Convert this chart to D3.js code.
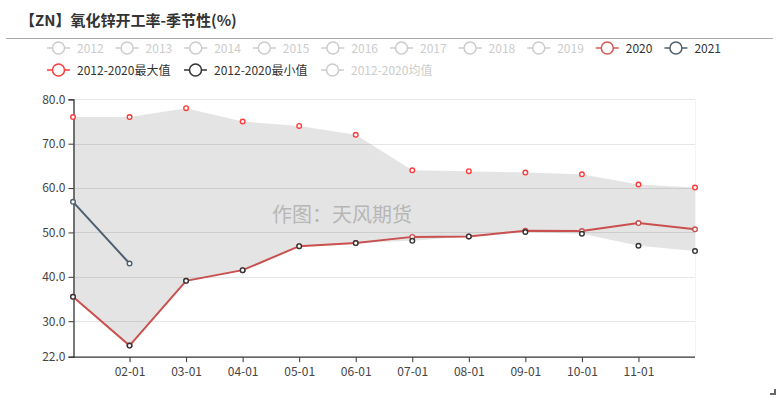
<!DOCTYPE html>
<html>
<head>
<meta charset="utf-8">
<script src="https://cdn.jsdelivr.net/npm/d3@7"></script>
<style>
  body { margin: 0; background: #fff; }
</style>
</head>
<body>
<div id="chart"></div>
<script>
var months = ["01-01", "02-01", "03-01", "04-01", "05-01", "06-01", "07-01", "08-01", "09-01", "10-01", "11-01", "12-01"];
var tickLabels = ["02-01", "03-01", "04-01", "05-01", "06-01", "07-01", "08-01", "09-01", "10-01", "11-01"];
var yTicks = [22, 30, 40, 50, 60, 70, 80];
var maxValues = [76, 76, 78, 75, 74, 72, 64, 63.8, 63.5, 63.1, 60.8, 60.1];
var minValues = [35.5, 24.5, 39.1, 41.5, 46.9, 47.6, 48.1, 49.1, 50.1, 49.7, 47.0, 45.8];
var values2020 = [35.5, 24.5, 39.1, 41.5, 46.9, 47.6, 49.0, 49.1, 50.4, 50.3, 52.1, 50.7];
var values2021 = [56.9, 43.0];
var legendRow1 = ["2012", "2013", "2014", "2015", "2016", "2017", "2018", "2019", "2020", "2021"];
var legendRow2 = ["2012-2020最大值", "2012-2020最小值", "2012-2020均值"];

var fontFamily = "'Noto Sans CJK SC', 'Noto Sans', sans-serif";
var width = 782, height = 398;
var plotLeft = 73, plotRight = 695, plotTop = 99.3, plotBottom = 356.7;

var svg = d3.select("#chart").append("svg")
  .attr("width", width)
  .attr("height", height);

// title
svg.append("text")
  .attr("x", 20).attr("y", 26)
  .attr("font-family", fontFamily)
  .attr("font-size", "15px")
  .attr("font-weight", "bold")
  .attr("fill", "#333")
  .text("【ZN】氧化锌开工率-季节性(%)");
svg.append("line")
  .attr("x1", 6).attr("x2", 773)
  .attr("y1", 38.5).attr("y2", 38.5)
  .attr("stroke", "#aaa").attr("stroke-width", 1);

// legend
var legendColor = {
  "2020": "#d45a55", "2021": "#4e6070",
  "2012-2020最大值": "#ff3b3b", "2012-2020最小值": "#333"
};
function drawLegend(items, y, xs) {
  items.forEach(function(name, i) {
    var x = xs[i];
    var c = legendColor[name] || "#ccc";
    var g = svg.append("g");
    g.append("line")
      .attr("x1", x).attr("x2", x + 23)
      .attr("y1", y).attr("y2", y)
      .attr("stroke", c).attr("stroke-width", 1.5);
    g.append("circle")
      .attr("cx", x + 11.5).attr("cy", y).attr("r", 6)
      .attr("fill", "#fff").attr("stroke", c).attr("stroke-width", 1.5);
    g.append("text")
      .attr("x", x + 30).attr("y", y + 4.5)
      .attr("font-family", fontFamily)
      .attr("font-size", "12px")
      .attr("fill", legendColor[name] ? "#333" : "#ccc")
      .text(name);
  });
}
drawLegend(legendRow1, 48, legendRow1.map(function(d, i) { return 47 + i * 68.6; }));
drawLegend(legendRow2, 70, [47, 184, 321]);

// scales
var x = d3.scalePoint().domain(months).range([plotLeft, plotRight]);
var y = d3.scaleLinear().domain([22, 80]).range([plotBottom, plotTop]);

// grid
svg.append("g").selectAll("line")
  .data(yTicks.filter(function(d) { return d > 22; }))
  .join("line")
  .attr("x1", plotLeft).attr("x2", plotRight)
  .attr("y1", function(d) { return Math.round(y(d)) + 0.5; })
  .attr("y2", function(d) { return Math.round(y(d)) + 0.5; })
  .attr("stroke", "#e6e6e6");
svg.append("line")
  .attr("x1", plotRight + 0.5).attr("x2", plotRight + 0.5)
  .attr("y1", plotTop).attr("y2", plotBottom)
  .attr("stroke", "#f4f4f4");

// band between max and min
var band = d3.area()
  .x(function(d, i) { return x(months[i]); })
  .y0(function(d, i) { return y(minValues[i]); })
  .y1(function(d) { return y(d); });
svg.append("path")
  .datum(maxValues)
  .attr("d", band)
  .attr("fill", "#000")
  .attr("fill-opacity", 0.105);

// watermark
svg.append("text")
  .attr("x", 342).attr("y", 222)
  .attr("text-anchor", "middle")
  .attr("font-family", fontFamily)
  .attr("font-size", "20px")
  .attr("fill", "#aaa")
  .attr("fill-opacity", 0.8)
  .text("作图：天风期货");

// axes
var yAxis = d3.axisLeft(y).tickValues(yTicks).tickFormat(d3.format(".1f")).tickSize(5).tickPadding(3);
var yg = svg.append("g").attr("transform", "translate(" + (plotLeft + 0.5) + ",0)").call(yAxis);
var xAxis = d3.axisBottom(x).tickValues(tickLabels).tickSize(5).tickSizeOuter(0).tickPadding(5);
var xg = svg.append("g").attr("transform", "translate(0," + (plotBottom + 0.5) + ")").call(xAxis);
[yg, xg].forEach(function(g) {
  g.select(".domain").attr("stroke", "#333").attr("stroke-width", 1.3);
  g.selectAll(".tick line").attr("stroke", "#333");
  g.selectAll("text")
    .attr("font-family", fontFamily)
    .attr("font-size", "12px")
    .attr("fill", "#444");
});
xg.select(".domain").attr("d", "M" + plotLeft + ",0H" + plotRight);

// lines
var line = d3.line()
  .x(function(d, i) { return x(months[i]); })
  .y(function(d) { return y(d); });

function drawSeries(data, color, withLine) {
  if (withLine) {
    svg.append("path")
      .datum(data)
      .attr("d", line)
      .attr("fill", "none")
      .attr("stroke", color)
      .attr("stroke-width", 2);
  }
  svg.append("g").selectAll("circle")
    .data(data)
    .join("circle")
    .attr("cx", function(d, i) { return x(months[i]); })
    .attr("cy", function(d) { return y(d); })
    .attr("r", 2.3)
    .attr("fill", "#fff")
    .attr("stroke", color)
    .attr("stroke-width", 1.4);
}
drawSeries(maxValues, "#ff3b3b", false);
drawSeries(values2020, "#c9504e", true);
drawSeries(minValues, "#333", false);
drawSeries(values2021, "#4e6070", true);

// resize handle mark
svg.append("path")
  .attr("d", "M770,395H776V389H774V393H770Z")
  .attr("fill", "#666");
</script>
</body>
</html>
